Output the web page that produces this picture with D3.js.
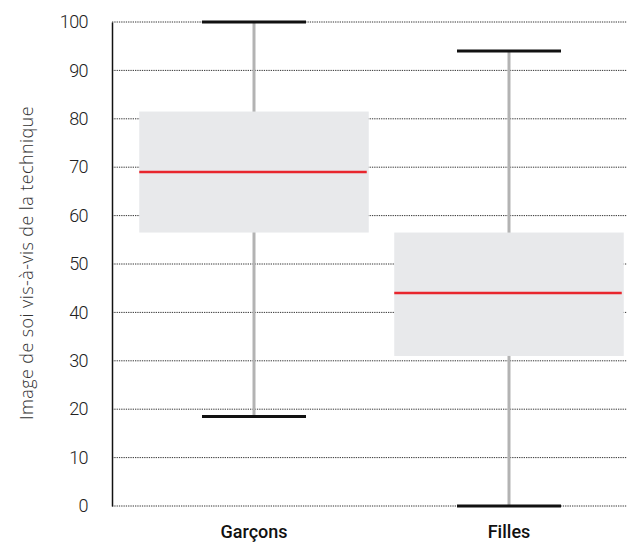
<!DOCTYPE html>
<html><head><meta charset="utf-8">
<script src="https://cdn.jsdelivr.net/npm/d3@7"></script>
<style>body{margin:0;background:#fff}svg{display:block}</style>
</head><body>
<svg id="c" width="627" height="543"></svg>
<script>
const categories = ["Garçons", "Filles"];
const mins = [18.5, 0];
const q1s = [56.5, 31];
const medians = [69, 44];
const q3s = [81.5, 56.5];
const maxs = [100, 94];
const yTicks = [0, 10, 20, 30, 40, 50, 60, 70, 80, 90, 100];
const yLabel = "Image de soi vis-à-vis de la technique";

(function () {
const svg = d3.select("#c");
const mLeft = 112, mTop = 22, mBottom = 506, mRight = 627;
const y = d3.scaleLinear().domain([0, 100]).range([mBottom, mTop]);
const x = d3.scaleBand().domain(categories).range([126.5, 636.5]).paddingInner(0.1).paddingOuter(0.05);

const font = "'Roboto', sans-serif";

svg.append("g").selectAll("line").data(yTicks).join("line")
  .attr("x1", mLeft).attr("x2", mRight)
  .attr("y1", d => y(d)).attr("y2", d => y(d))
  .attr("stroke", "#333").attr("stroke-width", 1).attr("stroke-dasharray", "1.3,1");

const data = categories.map((c, i) => ({c, min: mins[i], q1: q1s[i], med: medians[i], q3: q3s[i], max: maxs[i]}));
const bw = x.bandwidth();
const g = svg.append("g");
g.selectAll(".w").data(data).join("line")
  .attr("x1", d => x(d.c) + bw / 2).attr("x2", d => x(d.c) + bw / 2)
  .attr("y1", d => y(d.max)).attr("y2", d => y(d.min))
  .attr("stroke", "#b3b3b3").attr("stroke-width", 3);
g.selectAll(".b").data(data).join("rect")
  .attr("x", d => x(d.c)).attr("width", bw)
  .attr("y", d => y(d.q3)).attr("height", d => y(d.q1) - y(d.q3))
  .attr("fill", "#e8e9eb");
g.selectAll(".m").data(data).join("line")
  .attr("x1", d => x(d.c)).attr("x2", d => x(d.c) + bw - 2)
  .attr("y1", d => y(d.med)).attr("y2", d => y(d.med))
  .attr("stroke", "#e8262d").attr("stroke-width", 2.5);
const capW = 104;
["max", "min"].forEach(k => {
  g.append("g").selectAll("line").data(data).join("line")
    .attr("x1", d => x(d.c) + bw / 2 - capW / 2).attr("x2", d => x(d.c) + bw / 2 + capW / 2)
    .attr("y1", d => y(d[k])).attr("y2", d => y(d[k]))
    .attr("stroke", "#111").attr("stroke-width", 3);
});

const ya = svg.append("g").attr("transform", `translate(${mLeft},0)`)
  .call(d3.axisLeft(y).tickValues(yTicks).tickSize(0).tickPadding(24));
ya.select(".domain").attr("stroke", "#111").attr("stroke-width", 1.5);
ya.selectAll("text").attr("font-family", font).attr("font-weight", 300)
  .attr("font-size", 18).attr("letter-spacing", "-0.6px").attr("fill", "#222");

svg.append("g").selectAll("text").data(categories).join("text")
  .attr("x", d => x(d) + bw / 2).attr("y", 538)
  .attr("text-anchor", "middle")
  .attr("font-family", font).attr("font-weight", 500).attr("font-size", 18).attr("fill", "#111")
  .text(d => d);

svg.append("text")
  .attr("transform", `translate(33,263) rotate(-90)`)
  .attr("text-anchor", "middle")
  .attr("font-family", "'Open Sans', sans-serif").attr("font-weight", 300).attr("font-size", 18)
  .attr("letter-spacing", "0.4px").attr("fill", "#333")
  .text(yLabel);
})();
</script>
</body></html>
